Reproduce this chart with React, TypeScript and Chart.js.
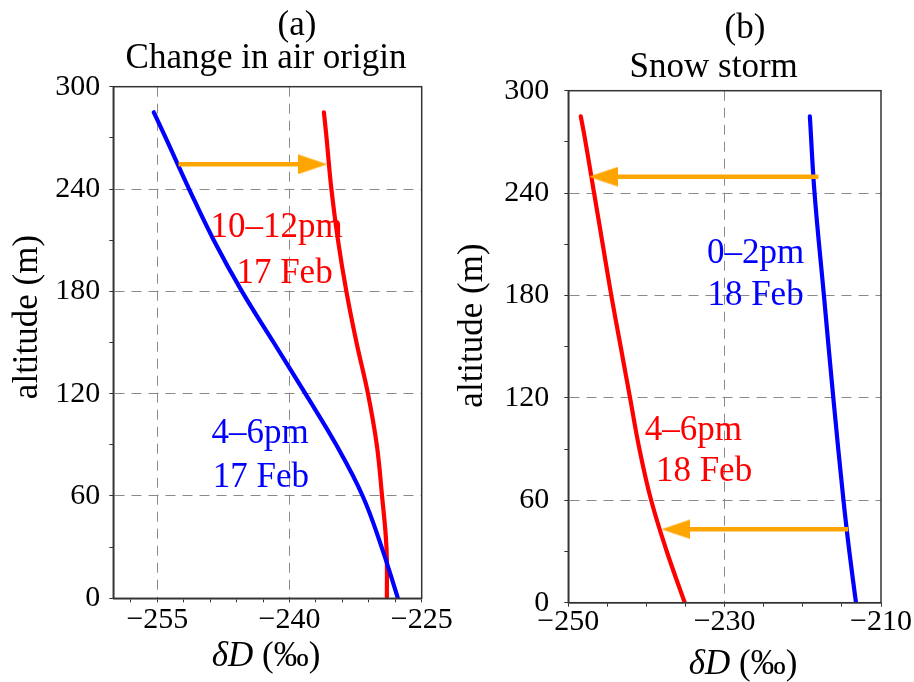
import React, { useEffect, useRef } from 'react';
import { Chart, registerables } from 'chart.js';

Chart.register(...registerables);

// ---------------- data: panel (a) "Change in air origin" ----------------
const aBlueAlt = [0, 30, 60, 90, 120, 150, 180, 210, 240, 270, 285];
const aBlueDD = [-227.7, -229.55, -231.7, -234.7, -238.2, -241.8, -245.4, -248.6, -251.4, -254.05, -255.4];
const aRedAlt = [0, 30, 60, 90, 120, 150, 180, 210, 240, 270, 285];
const aRedDD = [-228.95, -229.0, -229.5, -230.1, -231.1, -232.4, -233.55, -234.5, -235.25, -235.8, -236.1];
const aArrowAlt = 254.5;
const aArrowFrom = -252.6;
const aArrowShaftTo = -238.6;
const aArrowTip = -235.7;
const aXMin = -260;
const aXMax = -225;
const aXTicks = [-258, -255, -252, -249, -246, -243, -240, -237, -234, -231, -228, -225];
const aXLabels = [-255, -240, -225];
const aXGrid = [-255, -240];

// ---------------- data: panel (b) "Snow storm" ----------------
const bBlueAlt = [0, 30, 60, 120, 180, 240, 285];
const bBlueDD = [-213.2, -214.05, -214.8, -216.1, -217.3, -218.5, -219.1];
const bRedAlt = [0, 30, 60, 90, 120, 150, 180, 210, 240, 270, 285];
const bRedDD = [-235.1, -237.4, -239.4, -240.9, -242.1, -243.3, -244.5, -245.6, -246.7, -247.8, -248.4];
const bArrowAlt = [249.6, 43];
const bArrowFrom = [-218.0, -214.2];
const bArrowShaftTo = [-244.6, -235.3];
const bArrowTip = [-247.4, -238.1];
const bXMin = -250;
const bXMax = -210;
const bXTicks = [-250, -245, -240, -235, -230, -225, -220, -215, -210];
const bXLabels = [-250, -230, -210];
const bXGrid = [-230];

// ---------------- shared y axis ----------------
const yMin = 0;
const yMax = 300;
const yTicks = [0, 30, 60, 90, 120, 150, 180, 210, 240, 270, 300];
const yLabels = [0, 60, 120, 180, 240, 300];
const yGrid = [60, 120, 180, 240];

// ---------------- styles ----------------
const SERIF = '"Liberation Serif", "Times New Roman", Times, serif';
const BLUE = '#0000ff';
const RED = '#ff0000';
const ORANGE = '#ffa500';
const GRID = '#8a8a8a';
const AXIS = '#333333';
const W = 457;
const H = 682;

type Part = { t: string; italic?: boolean };
type Txt = { parts: Part[]; x: number; y: number; size: number; color: string; rotate?: boolean };

function makeHead(): HTMLCanvasElement {
  const len = 29;
  const h = 20;
  const c = document.createElement('canvas');
  c.width = len * 2;
  c.height = h;
  const g = c.getContext('2d')!;
  g.fillStyle = ORANGE;
  g.beginPath();
  g.moveTo(0, 0.3);
  g.lineTo(len, h / 2);
  g.lineTo(0, h - 0.3);
  g.closePath();
  g.fill();
  return c;
}

function drawTexts(ctx: CanvasRenderingContext2D, texts: Txt[]) {
  ctx.save();
  ctx.textBaseline = 'alphabetic';
  for (const tx of texts) {
    const fonts = tx.parts.map((p) => `${p.italic ? 'italic ' : ''}${tx.size}px ${SERIF}`);
    let total = 0;
    const widths = tx.parts.map((p, i) => {
      ctx.font = fonts[i];
      const w = ctx.measureText(p.t).width;
      total += w;
      return w;
    });
    ctx.save();
    ctx.translate(tx.x, tx.y);
    if (tx.rotate) ctx.rotate(-Math.PI / 2);
    ctx.fillStyle = tx.color;
    ctx.textAlign = 'left';
    let cx = -total / 2;
    tx.parts.forEach((p, i) => {
      ctx.font = fonts[i];
      ctx.fillText(p.t, cx, 0);
      cx += widths[i];
    });
    ctx.restore();
  }
  ctx.restore();
}

const fmt = (v: number) => (v < 0 ? '\u2212' + Math.abs(v) : String(v));

type PanelCfg = {
  left: number;
  xMin: number;
  xMax: number;
  xTicks: number[];
  xLabels: number[];
  xGrid: number[];
  series: { alt: number[]; dd: number[]; color: string }[];
  arrows: { alt: number; from: number; shaftTo: number; tip: number }[];
  area: { left: number; right: number; top: number; bottom: number };
  yPad: number;
  xPad: number;
  texts: Txt[];
};

function Panel({ cfg }: { cfg: PanelCfg }) {
  const ref = useRef<HTMLCanvasElement>(null);
  useEffect(() => {
    const head = makeHead();
    const datasets: any[] = [];
    cfg.arrows.forEach((a) => {
      datasets.push({
        data: [
          { x: a.from, y: a.alt },
          { x: a.shaftTo, y: a.alt },
        ],
        borderColor: ORANGE,
        borderWidth: 4.5,
        borderCapStyle: 'butt',
        pointRadius: 0,
        tension: 0,
      });
      datasets.push({
        data: [{ x: a.tip, y: a.alt }],
        showLine: false,
        pointStyle: head,
        pointRadius: 10,
        pointRotation: a.tip > a.from ? 0 : 180,
      });
    });
    cfg.series.forEach((s) => {
      datasets.push({
        data: s.alt.map((y, i) => ({ x: s.dd[i], y })),
        borderColor: s.color,
        borderWidth: 4.2,
        pointRadius: 0,
        tension: 0.4,
        borderJoinStyle: 'round',
        borderCapStyle: 'round',
      });
    });

    const ar = cfg.area;
    const deco = {
      id: 'deco',
      afterDraw(chart: any) {
        const ctx = chart.ctx as CanvasRenderingContext2D;
        const c = chart.chartArea;
        ctx.save();
        ctx.strokeStyle = AXIS;
        ctx.lineWidth = 1.5;
        ctx.strokeRect(c.left, c.top, c.right - c.left, c.bottom - c.top);
        ctx.restore();
        drawTexts(ctx, cfg.texts);
      },
    };

    const chart = new Chart(ref.current!, {
      type: 'line',
      data: { datasets },
      options: {
        animation: false,
        responsive: false,
        events: [],
        layout: {
          padding: { left: 0, top: ar.top, right: W - ar.right, bottom: 0 },
        },
        plugins: {
          legend: { display: false },
          tooltip: { enabled: false },
        },
        scales: {
          x: {
            type: 'linear',
            min: cfg.xMin,
            max: cfg.xMax,
            afterFit: (scale: any) => {
              scale.height = H - ar.bottom;
            },
            afterBuildTicks: (scale: any) => {
              scale.ticks = cfg.xTicks.map((v) => ({ value: v }));
            },
            grid: {
              color: (ctx: any) => (ctx.tick && cfg.xGrid.includes(ctx.tick.value) ? GRID : 'rgba(0,0,0,0)'),
              tickColor: AXIS,
              tickLength: 4,
              lineWidth: 1,
            },
            border: { display: true, color: AXIS, width: 1.5, dash: [10, 7] },
            ticks: {
              autoSkip: false,
              maxRotation: 0,
              padding: cfg.xPad,
              color: '#000',
              font: { family: SERIF, size: 30, lineHeight: 1 },
              callback: (v: any) => (cfg.xLabels.includes(Number(v)) ? fmt(Number(v)) : ''),
            },
          },
          y: {
            type: 'linear',
            min: yMin,
            max: yMax,
            afterFit: (scale: any) => {
              scale.width = ar.left;
            },
            afterBuildTicks: (scale: any) => {
              scale.ticks = yTicks.map((v) => ({ value: v }));
            },
            grid: {
              color: (ctx: any) => (ctx.tick && yGrid.includes(ctx.tick.value) ? GRID : 'rgba(0,0,0,0)'),
              tickColor: AXIS,
              tickLength: 4,
              lineWidth: 1,
            },
            border: { display: true, color: AXIS, width: 1.5, dash: [10, 7] },
            ticks: {
              autoSkip: false,
              padding: cfg.yPad,
              color: '#000',
              font: { family: SERIF, size: 30, lineHeight: 1 },
              callback: (v: any) => (yLabels.includes(Number(v)) ? fmt(Number(v)) : ''),
            },
          },
        },
      },
      plugins: [deco],
    } as any);
    return () => chart.destroy();
  }, []);
  return (
    <canvas
      ref={ref}
      width={W}
      height={H}
      style={{ position: 'absolute', left: cfg.left, top: 0, width: W, height: H }}
    />
  );
}

const dD: Part[] = [{ t: '\u03b4D', italic: true }, { t: ' (\u2030)' }];

const panelA: PanelCfg = {
  left: 0,
  xMin: aXMin,
  xMax: aXMax,
  xTicks: aXTicks,
  xLabels: aXLabels,
  xGrid: aXGrid,
  series: [
    { alt: aBlueAlt, dd: aBlueDD, color: BLUE },
    { alt: aRedAlt, dd: aRedDD, color: RED },
  ],
  arrows: [{ alt: aArrowAlt, from: aArrowFrom, shaftTo: aArrowShaftTo, tip: aArrowTip }],
  area: { left: 113.3, right: 421.7, top: 86.7, bottom: 598.3 },
  yPad: 9,
  xPad: 3,
  texts: [
    { parts: [{ t: '(a)' }], x: 297, y: 35, size: 35, color: '#000' },
    { parts: [{ t: 'Change in air origin' }], x: 266, y: 67.5, size: 35, color: '#000' },
    { parts: [{ t: 'altitude (m)' }], x: 37, y: 317, size: 35, color: '#000', rotate: true },
    { parts: dD, x: 266, y: 666, size: 35, color: '#000' },
    { parts: [{ t: '10\u201312pm' }], x: 276.7, y: 236.7, size: 35, color: RED },
    { parts: [{ t: '17 Feb' }], x: 284.5, y: 282.7, size: 35, color: RED },
    { parts: [{ t: '4\u20136pm' }], x: 260, y: 443.3, size: 35, color: BLUE },
    { parts: [{ t: '17 Feb' }], x: 260.8, y: 486.7, size: 35, color: BLUE },
  ],
};

const panelB: PanelCfg = {
  left: 457,
  xMin: bXMin,
  xMax: bXMax,
  xTicks: bXTicks,
  xLabels: bXLabels,
  xGrid: bXGrid,
  series: [
    { alt: bBlueAlt, dd: bBlueDD, color: BLUE },
    { alt: bRedAlt, dd: bRedDD, color: RED },
  ],
  arrows: bArrowAlt.map((alt, i) => ({ alt, from: bArrowFrom[i], shaftTo: bArrowShaftTo[i], tip: bArrowTip[i] })),
  area: { left: 111.3, right: 424, top: 90.7, bottom: 602.7 },
  yPad: 15,
  xPad: 0,
  texts: [
    { parts: [{ t: '(b)' }], x: 288, y: 38, size: 35, color: '#000' },
    { parts: [{ t: 'Snow storm' }], x: 256.7, y: 77.3, size: 35, color: '#000' },
    { parts: [{ t: 'altitude (m)' }], x: 25, y: 325.5, size: 35, color: '#000', rotate: true },
    { parts: dD, x: 286, y: 674, size: 35, color: '#000' },
    { parts: [{ t: '0\u20132pm' }], x: 298.7, y: 263.3, size: 35, color: BLUE },
    { parts: [{ t: '18 Feb' }], x: 298.5, y: 305, size: 35, color: BLUE },
    { parts: [{ t: '4\u20136pm' }], x: 236.3, y: 440, size: 35, color: RED },
    { parts: [{ t: '18 Feb' }], x: 247, y: 481, size: 35, color: RED },
  ],
};

export default function App() {
  return (
    <div style={{ position: 'absolute', left: 0, top: 0, width: 914, height: 682, background: '#fff' }}>
      <Panel cfg={panelA} />
      <Panel cfg={panelB} />
    </div>
  );
}
